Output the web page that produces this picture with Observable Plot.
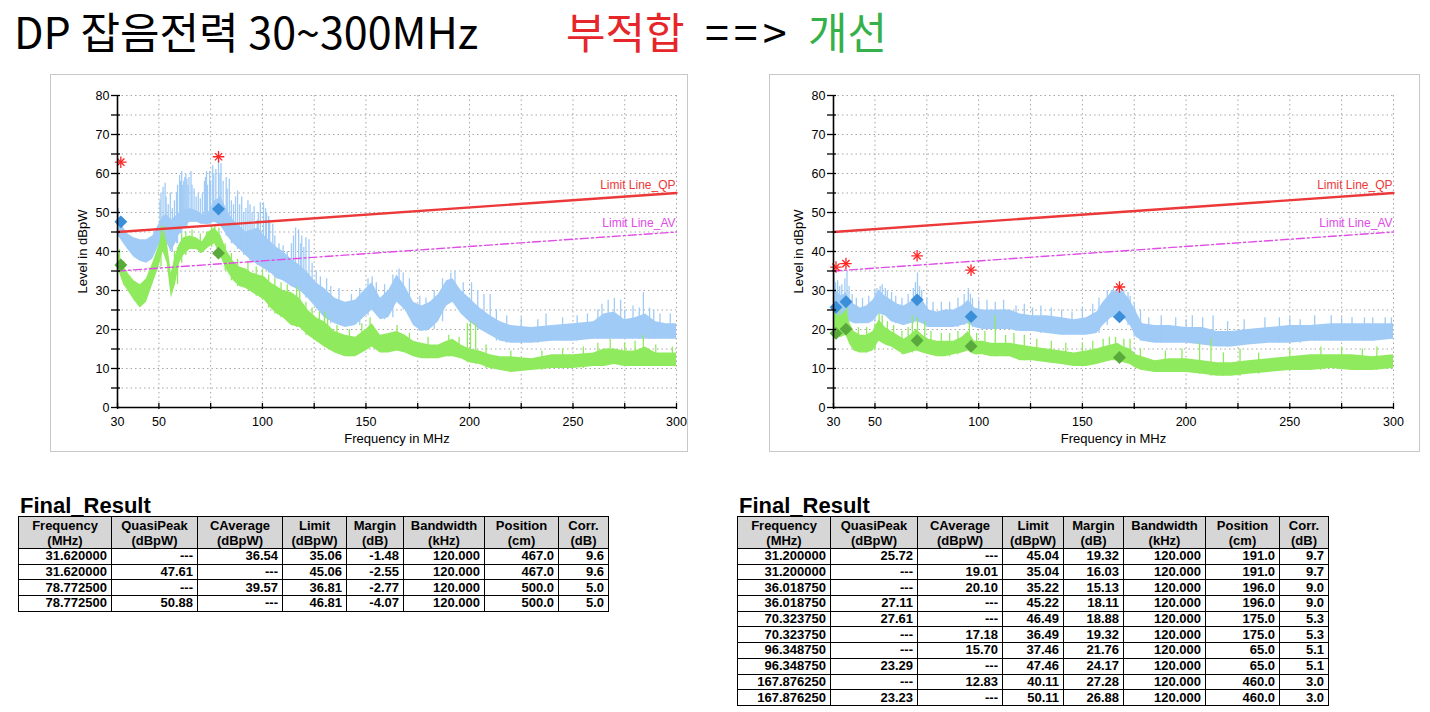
<!DOCTYPE html>
<html><head><meta charset="utf-8">
<script src="https://cdn.jsdelivr.net/npm/d3@7"></script>
<script src="https://cdn.jsdelivr.net/npm/@observablehq/plot@0.6"></script>
<style>
body{margin:0;background:#fff;width:1430px;height:712px;overflow:hidden;position:relative;font-family:"Liberation Sans",Arial,sans-serif;}
.ttl{position:absolute;top:9px;font-family:"Noto Sans CJK KR";font-size:43px;line-height:43px;white-space:nowrap;}
.panel{position:absolute;top:74px;border:1px solid #c8c8c8;background:#fff;}
.panel svg{display:block;max-width:none;}
.fr{position:absolute;top:495px;font-weight:bold;font-size:22px;line-height:22px;}
table{position:absolute;top:516px;border-collapse:collapse;table-layout:fixed;font-weight:bold;font-size:13px;}
th{background:#d6d6d6;border:1px solid #000;font-weight:bold;line-height:15px;padding:0;height:31px;text-align:center;}
td{border:1px solid #000;text-align:right;padding:0 4px 0 0;height:14.7px;line-height:14px;}
</style></head><body>
<script>
// ---------- title ----------
const titleMain = "DP 잡음전력 30~300MHz";
const titleBad = "부적합";
const titleArrow = "==>";
const titleGood = "개선";

// ---------- axes ----------
const xTicks = [30, 50, 75, 100, 125, 150, 175, 200, 225, 250, 275, 300];
const xTickLabels = [30, 50, 100, 150, 200, 250, 300];
const xGridVals = [50, 75, 100, 125, 150, 175, 200, 225, 250, 275, 300];
const yTicks = [0, 5, 10, 15, 20, 25, 30, 35, 40, 45, 50, 55, 60, 65, 70, 75, 80];
const yTickLabels = [0, 10, 20, 30, 40, 50, 60, 70, 80];
const xLabel = "Frequency in MHz";
const yLabel = "Level in dBpW";

// ---------- limit lines ----------
const limitFreq = [30, 300];
const limitQP = [45, 55];
const limitAV = [35, 45];
const limitQPName = "Limit Line_QP";
const limitAVName = "Limit Line_AV";

// ---------- panel 1 (before) traces ----------
const p1Freq =    [30, 31, 33, 35, 38, 41, 44, 47, 50, 52, 54, 56, 58, 60, 62, 65, 68, 71, 74, 77, 80, 83, 86, 89, 92, 95, 98, 101, 104, 107, 110, 114, 118, 122, 126, 130, 135, 140, 145, 150, 153, 157, 161, 165, 169, 173, 177, 181, 185, 189, 192, 196, 200, 205, 210, 215, 220, 230, 240, 250, 260, 265, 270, 275, 280, 285, 290, 295, 300];
const p1BlueLo =  [44, 43.5, 42, 40.5, 38.5, 37.5, 37, 38, 41.5, 43, 42, 40, 42, 44.5, 46, 47.5, 47.5, 47, 47, 47.5, 46.5, 44, 42, 40.5, 39, 37.5, 36.5, 35.5, 34.5, 33, 32.5, 31, 30, 28, 25.5, 23, 21.5, 20.5, 21, 23.5, 25, 22.5, 23, 27, 25, 21, 19.5, 20, 22, 26, 27, 24, 22, 20, 18.5, 17, 16.5, 16.5, 17, 17, 17.5, 17.5, 17.5, 17.5, 17.5, 17.5, 17.5, 17.5, 17.5];
const p1BlueHi =  [51, 49, 46, 44.5, 43.5, 43, 43, 44, 47, 49, 49.5, 48, 49, 50, 50.5, 51, 50.5, 49.5, 50, 53, 54, 50.5, 48, 46.5, 45, 45.5, 46, 44, 42.5, 41, 40, 38, 36.5, 34.5, 32, 30.5, 28, 27, 27.5, 30.5, 32, 28, 30, 34, 31, 27, 26, 27, 29, 32.5, 33, 30, 28, 25.5, 23.5, 22, 21, 20.5, 21, 21.5, 22, 24, 24.5, 22.5, 23, 24, 22, 21.5, 21.5];
const p1GreenLo = [35, 34.5, 31.5, 30, 27.5, 25.5, 27, 31.5, 36, 40, 37, 28, 31.5, 37, 39, 40.5, 40.5, 39.5, 41, 42, 38.5, 35, 32.5, 31, 30.5, 29.5, 28.5, 27.5, 25.5, 24, 23, 21, 20.5, 18.5, 17, 15.5, 14, 13, 13, 14.5, 15.5, 14, 14, 14.5, 14, 13, 12.5, 12.5, 12.5, 13, 13, 12.5, 11.5, 11, 10, 9.5, 9, 9.5, 10, 10, 10.5, 10.5, 11, 10.5, 10.5, 10.5, 10.5, 10.5, 10.5];
const p1GreenHi = [40.5, 39, 36, 34.5, 32.5, 31.5, 33, 37, 41.5, 45, 42.5, 34.5, 39, 42, 43.5, 44, 43.5, 42.5, 45, 46, 44, 40, 37.5, 36, 35.5, 34.5, 34, 33.5, 32, 31, 30, 29.5, 28, 25, 23, 22, 19.5, 18.5, 18, 20, 21.5, 18.5, 19, 19.5, 18.5, 17, 16.5, 16, 16, 17, 17.5, 16, 15, 14.5, 13.5, 13, 13, 12.5, 13.5, 13.5, 14, 15, 15, 14.5, 14.5, 15.5, 14, 14, 14];
const p1BlueSpikeF =   [30.5, 51, 52, 53, 54.5, 55.5, 60, 61, 62, 63, 64, 65.5, 67, 72, 73, 74.5, 76, 77.5, 78.8, 80, 81, 82.5, 84, 86, 88, 90, 92, 94, 96, 97.5, 99, 100.5, 102, 103.5, 105, 116, 117.5, 119, 121, 122.5, 153, 166, 191, 201, 210, 267, 270, 273, 284, 289,
  50.5, 53.5, 56.5, 57.5, 58.5, 59, 60.5, 61.5, 62.5, 63.5, 64.5, 66, 68, 69, 70, 71, 72.5, 73.5, 75, 76.5, 79.5, 83, 85, 87, 89, 91, 93, 95, 98, 101.5, 103, 106, 108, 110, 112, 114, 115, 118.5, 120, 124, 126, 128, 131, 133, 137, 143, 147, 151, 155, 159, 163, 168, 171, 176, 179, 183, 187, 193, 197, 204, 207, 213, 218, 225, 233, 237, 245, 252, 257, 262, 264, 275, 279, 282, 287, 292, 297];
const p1BlueSpikeTop = [51, 55, 56.5, 57.5, 52, 55, 59.5, 60.5, 58, 60, 57, 60.5, 56, 58, 60.5, 60.5, 62, 61, 63.5, 62.5, 58, 59, 58.5, 52, 55.5, 54, 51, 52, 51.5, 48, 52.5, 52.5, 50, 48, 47, 46, 45.5, 44, 43.5, 43, 33.5, 35.5, 34.5, 32, 29, 27.5, 28, 27.5, 29.5, 25,
  53, 54, 51, 53, 55, 57, 58, 57, 59, 58.5, 59, 57, 54, 55, 53.5, 55, 59, 57, 58, 60, 60, 56, 53, 54, 52, 50, 53, 50, 50, 51, 49, 44, 42, 41.5, 40, 42, 44, 42, 41, 37, 35, 33.5, 33, 31, 30.5, 29, 30.5, 33, 32, 31.5, 34, 34.5, 33, 28.5, 28, 30, 33, 35, 32, 30, 29, 25, 23.5, 23, 22.5, 24, 23, 23.5, 24, 25, 26.5, 25, 26, 25.5, 25.5, 24, 24];
const p1GreenSpikeF =   [31, 57.5, 75.5, 116.5, 118, 127.5, 130, 131.5, 199, 200.5, 203, 268, 284,
  33, 51, 52.5, 59, 61, 63, 66, 70, 73, 77, 79, 82, 85, 88, 93, 97, 100, 103, 106, 109, 112, 121, 124, 136, 142, 148, 152, 165, 171, 180, 190, 195, 208, 220, 235, 245, 255, 262, 275, 280, 290, 298];
const p1GreenSpikeTop = [40.5, 40, 46.5, 31, 30, 24.5, 24.5, 23, 21.5, 22, 21.5, 17.5, 18.5,
  37.5, 46.5, 46.5, 41, 44.5, 45, 45.5, 44.5, 45, 47, 46, 42, 39.5, 38, 37.5, 36, 35.5, 34, 33, 32, 31.5, 27, 25.5, 21, 20, 21.5, 23, 21, 19, 18, 18.5, 18, 16, 14.5, 14.5, 15, 15.5, 16.5, 16.5, 17, 16, 15.5];
const p1StarF = [31.6, 78.8];
const p1StarV = [62.9, 64.3];

// ---------- panel 2 (improved) traces ----------
const p2Freq =    [30, 32, 34, 36, 38, 40, 43, 46, 49, 52, 55, 58, 61, 64, 67, 70, 73, 76, 80, 84, 88, 92, 95, 98, 102, 106, 110, 115, 120, 126, 133, 140, 146, 152, 157, 160, 164, 167, 170, 173, 176, 179, 185, 192, 200, 208, 215, 222, 230, 240, 250, 260, 270, 280, 290, 300];
const p2BlueLo =  [24, 23, 22.5, 22.5, 22, 21.5, 21.5, 21.5, 22, 24, 23.5, 22, 21.5, 21, 21.5, 22, 21.5, 20.5, 20.5, 20.5, 20.5, 21, 21.5, 20.5, 20, 20, 20, 20, 19.5, 19.5, 19, 18.5, 18.5, 18.5, 19, 21, 23, 23.5, 23, 21, 18, 17, 16.5, 16.5, 16.5, 16, 15.5, 15.5, 16, 16.5, 16.5, 17, 17, 17, 17, 17.5];
const p2BlueHi =  [31, 29.5, 28.5, 29.5, 27.5, 26.5, 25.5, 26, 27.5, 30, 28.5, 27.5, 26.5, 26, 27, 29, 27.5, 25, 24.5, 25, 25, 26, 27.5, 25.5, 25, 25, 25, 25, 24, 23.5, 23.5, 23, 22.5, 23, 24.5, 27, 29.5, 30, 29.5, 27.5, 24.5, 21.5, 21, 21, 20.5, 20.5, 19.5, 19.5, 20, 20.5, 21, 21, 21.5, 21.5, 21.5, 21.5];
const p2GreenLo = [18.5, 18, 18, 18.5, 16, 14.5, 14, 14, 14.5, 17, 16, 15.5, 14.5, 13.5, 14, 14.5, 14, 13.5, 13, 13, 13.5, 14, 14.5, 13.5, 13.5, 13, 13, 13, 12, 12, 11.5, 11, 10.5, 10.5, 11, 11.5, 12, 12, 11.5, 11, 10, 9.5, 9, 9, 9, 8.5, 8, 8, 8.5, 9, 9.5, 9.5, 10, 9.5, 9.5, 10];
const p2GreenHi = [24.5, 23.5, 23.5, 25, 21.5, 19.5, 18.5, 18.5, 19.5, 22.5, 20.5, 19.5, 18.5, 17.5, 18.5, 20, 18.5, 17.5, 17, 17, 17, 18, 19.5, 17, 17, 16.5, 16.5, 16.5, 16, 15.5, 15, 14.5, 14, 14.5, 15, 15.5, 16, 16.5, 15.5, 15, 13.5, 13, 12, 12.5, 12.5, 12, 11.5, 11.5, 12, 12.5, 13, 13.5, 13.5, 13.5, 13, 13.5];
const p2BlueSpikeF =   [30.3, 31, 33, 35.5, 36.5, 37.5, 51, 52.5, 55, 69.5, 70.5, 71.5, 95, 96, 104, 112, 122, 135, 165, 167.5, 170, 173, 188, 203, 213, 238, 262, 286, 296,
  32, 34, 39, 41, 44, 47, 50, 53.5, 56, 58, 60, 63, 66, 68.5, 72.5, 75, 78, 82, 86, 90, 93, 97, 100, 108, 118, 126, 130, 140, 145, 150, 155, 158, 162, 164, 169, 172, 175, 178, 182, 195, 200, 208, 220, 228, 245, 250, 255, 270, 275, 280, 290, 299];
const p2BlueSpikeTop = [34.5, 32, 31, 33, 34.8, 31, 30.5, 31, 30.5, 32, 34.5, 31, 30.5, 29, 27.5, 27.5, 26.5, 25.5, 30.5, 31, 30, 28.5, 23.5, 23.5, 23.5, 23, 23.5, 23, 23,
  32.5, 31.5, 29, 28, 28, 28.5, 30, 31.5, 30, 29.5, 28.5, 28, 29, 30.5, 30, 28, 27, 27, 27, 28, 29, 28, 27.5, 27, 26, 25.5, 26, 25, 24.5, 25.5, 26.5, 28, 30, 30, 30.5, 29.5, 27, 25, 23, 23, 22.5, 23, 22, 22.5, 23, 23, 22.5, 23.5, 23, 23, 23, 23];
const p2GreenSpikeF =   [31, 36.5, 52, 53.5, 68, 70.5, 74, 95.5, 108, 122, 166, 173, 206.5, 212, 226, 285,
  33, 42, 46, 50, 56, 59, 63, 66, 77, 82, 86, 90, 99, 103, 113, 117, 128, 135, 142, 150, 155, 160, 163, 170, 178, 190, 198, 218, 235, 250, 265, 275, 292];
const p2GreenSpikeTop = [25.5, 26.5, 24, 23.5, 23.5, 23, 22, 22, 23.5, 18.5, 18, 17.5, 16.5, 17.5, 15, 15,
  25, 20.5, 20.5, 21.5, 22, 21, 19.5, 20.5, 19.5, 19, 19, 19.5, 19, 19.5, 18.5, 19, 17.5, 17, 16.5, 16.5, 17, 17.5, 18, 17.5, 15, 14.5, 15, 14, 14, 15, 15.5, 15.5, 15.5];
const p2StarF = [31.2, 36.0, 70.3, 96.3, 167.9];
const p2StarV = [36.0, 36.9, 38.9, 35.2, 30.9];

// ---------- tables ----------
const tableTitle = "Final_Result";
const tableHeads = ["Frequency", "QuasiPeak", "CAverage", "Limit", "Margin", "Bandwidth", "Position", "Corr."];
const tableUnits = ["(MHz)", "(dBpW)", "(dBpW)", "(dBpW)", "(dB)", "(kHz)", "(cm)", "(dB)"];

const t1Freq   = ["31.620000", "31.620000", "78.772500", "78.772500"];
const t1QP     = ["---", "47.61", "---", "50.88"];
const t1CAvg   = ["36.54", "---", "39.57", "---"];
const t1Limit  = ["35.06", "45.06", "36.81", "46.81"];
const t1Margin = ["-1.48", "-2.55", "-2.77", "-4.07"];
const t1BW     = ["120.000", "120.000", "120.000", "120.000"];
const t1Pos    = ["467.0", "467.0", "500.0", "500.0"];
const t1Corr   = ["9.6", "9.6", "5.0", "5.0"];

const t2Freq   = ["31.200000", "31.200000", "36.018750", "36.018750", "70.323750", "70.323750", "96.348750", "96.348750", "167.876250", "167.876250"];
const t2QP     = ["25.72", "---", "---", "27.11", "27.61", "---", "---", "23.29", "---", "23.23"];
const t2CAvg   = ["---", "19.01", "20.10", "---", "---", "17.18", "15.70", "---", "12.83", "---"];
const t2Limit  = ["45.04", "35.04", "35.22", "45.22", "46.49", "36.49", "37.46", "47.46", "40.11", "50.11"];
const t2Margin = ["19.32", "16.03", "15.13", "18.11", "18.88", "19.32", "21.76", "24.17", "27.28", "26.88"];
const t2BW     = ["120.000", "120.000", "120.000", "120.000", "120.000", "120.000", "120.000", "120.000", "120.000", "120.000"];
const t2Pos    = ["191.0", "191.0", "196.0", "196.0", "175.0", "175.0", "65.0", "65.0", "460.0", "460.0"];
const t2Corr   = ["9.7", "9.7", "9.0", "9.0", "5.3", "5.3", "5.1", "5.1", "3.0", "3.0"];

// ---------- colours ----------
const C = {
  blueTrace: "#a0cbf6", greenTrace: "#90ea5e",
  qp: "#ec3838", av: "#e04ce6",
  blueDia: "#3b8fd9", greenDia: "#5aa93c", star: "#ff2424",
  grid: "#a6a6a6", bad: "#e5262b", good: "#35b04a"
};

// ---------- title ----------
function addTitle(text, left, color, spacing) {
  const d = document.createElement("div");
  d.className = "ttl"; d.style.left = left + "px"; d.style.color = color; d.textContent = text;
  if (spacing) d.style.letterSpacing = spacing + "px";
  document.body.appendChild(d);
}
addTitle(titleMain, 14, "#000");
addTitle(titleBad, 566, C.bad);
addTitle(titleArrow, 705, "#000", 5);
addTitle(titleGood, 808, C.good);

// ---------- panels ----------
function makePanel(cfg) {
  const env = cfg.freq.map((f, i) => ({f, bLo: cfg.bLo[i], bHi: cfg.bHi[i], gLo: cfg.gLo[i], gHi: cfg.gHi[i]}));
  const nearest = f => env[d3.minIndex(env, d => Math.abs(d.f - f))];
  const bSp = cfg.bSpF.map((f, i) => ({f, lo: nearest(f).bLo, top: cfg.bSpT[i]}));
  const gSp = cfg.gSpF.map((f, i) => ({f, lo: nearest(f).gLo, top: cfg.gSpT[i]}));
  const lim = limitFreq.map((f, i) => ({f, qp: limitQP[i], av: limitAV[i]}));
  const pick = (fs, vs) => fs.map((f, i) => ({f: +f, v: vs[i]})).filter(d => d.v !== "---").map(d => ({f: d.f, v: +d.v}));
  const qp = pick(cfg.tFreq, cfg.tQP);
  const av = pick(cfg.tFreq, cfg.tAV);
  const stars = cfg.starF.map((f, i) => ({f, v: cfg.starV[i]}));
  const fs = 12.5;

  const plot = Plot.plot({
    width: cfg.width, height: 376,
    marginLeft: cfg.mL, marginRight: cfg.mR, marginTop: 20, marginBottom: 44,
    style: {fontFamily: "'Liberation Sans', Arial, sans-serif", fontSize: fs + "px", color: "#000", background: "#fff"},
    x: {domain: [30, 300]},
    y: {domain: [0, 80]},
    marks: [
      Plot.gridX(xGridVals, {stroke: C.grid, strokeOpacity: 1, strokeDasharray: "1.5,3"}),
      Plot.gridY(yTicks, {stroke: C.grid, strokeOpacity: 1, strokeDasharray: "1.5,3"}),
      Plot.areaY(env, {x: "f", y1: "bLo", y2: "bHi", fill: C.blueTrace, curve: "linear"}),
      Plot.ruleX(bSp, {x: "f", y1: "lo", y2: "top", stroke: C.blueTrace, strokeWidth: 1.3}),
      Plot.areaY(env, {x: "f", y1: "gLo", y2: "gHi", fill: C.greenTrace, curve: "linear"}),
      Plot.ruleX(gSp, {x: "f", y1: "lo", y2: "top", stroke: C.greenTrace, strokeWidth: 1.3}),
      Plot.line(lim, {x: "f", y: "qp", stroke: C.qp, strokeWidth: 2.4}),
      Plot.line(lim, {x: "f", y: "av", stroke: C.av, strokeWidth: 1.4, strokeDasharray: "8,3,2,3"}),
      Plot.text([{f: 300, v: limitQP[1], t: limitQPName}], {x: "f", y: "v", text: "t", textAnchor: "end", lineAnchor: "bottom", dy: -4, dx: -1, fill: C.qp, fontSize: 12}),
      Plot.text([{f: 300, v: limitAV[1], t: limitAVName}], {x: "f", y: "v", text: "t", textAnchor: "end", lineAnchor: "bottom", dy: -5, dx: -1, fill: C.av, fontSize: 12}),
      Plot.dot(qp, {x: "f", y: "v", symbol: "diamond2", r: 5.8, fill: C.blueDia}),
      Plot.dot(av, {x: "f", y: "v", symbol: "diamond2", r: 5.8, fill: C.greenDia}),
      Plot.dot(stars, {x: "f", y: "v", symbol: "plus", r: 3.8, stroke: C.star, strokeWidth: 1.3}),
      Plot.dot(stars, {x: "f", y: "v", symbol: "times", r: 3.4, stroke: C.star, strokeWidth: 1.3}),
      Plot.ruleX([30], {stroke: "#000", strokeWidth: 1.6}),
      Plot.ruleY([0], {stroke: "#000", strokeWidth: 1.6}),
      Plot.axisY(yTicks, {tickSize: 9, dx: 3, tickPadding: 2, strokeWidth: 1.3, tickFormat: d => yTickLabels.includes(d) ? String(d) : "", label: null, fontSize: fs}),
      Plot.axisX(xTicks, {tickSize: 6, dy: -4, tickPadding: 8, strokeWidth: 1.3, tickFormat: d => xTickLabels.includes(d) ? String(d) : "", label: null, fontSize: fs}),
      Plot.text([xLabel], {frameAnchor: "bottom", dy: 35, fontSize: 13}),
      Plot.text([yLabel], {frameAnchor: "left", dx: -35, rotate: -90, textAnchor: "middle", fontSize: 13})
    ]
  });
  const div = document.createElement("div");
  div.className = "panel"; div.style.left = cfg.left + "px";
  div.style.width = cfg.width + "px"; div.style.height = "376px";
  div.appendChild(plot);
  document.body.appendChild(div);
}

makePanel({left: 50, width: 636, mL: 66, mR: 11,
  freq: p1Freq, bLo: p1BlueLo, bHi: p1BlueHi, gLo: p1GreenLo, gHi: p1GreenHi,
  bSpF: p1BlueSpikeF, bSpT: p1BlueSpikeTop, gSpF: p1GreenSpikeF, gSpT: p1GreenSpikeTop,
  starF: p1StarF, starV: p1StarV, tFreq: t1Freq, tQP: t1QP, tAV: t1CAvg});
makePanel({left: 769, width: 649, mL: 63, mR: 26,
  freq: p2Freq, bLo: p2BlueLo, bHi: p2BlueHi, gLo: p2GreenLo, gHi: p2GreenHi,
  bSpF: p2BlueSpikeF, bSpT: p2BlueSpikeTop, gSpF: p2GreenSpikeF, gSpT: p2GreenSpikeTop,
  starF: p2StarF, starV: p2StarV, tFreq: t2Freq, tQP: t2QP, tAV: t2CAvg});

// ---------- tables ----------
function buildTable(left, widths, cols) {
  d3.select("body").append("div").attr("class", "fr").style("left", (left + 2) + "px").text(tableTitle);
  const tbl = d3.select("body").append("table").style("left", left + "px").style("width", d3.sum(widths) + "px");
  const cg = tbl.append("colgroup");
  widths.forEach(w => cg.append("col").style("width", w + "px"));
  const hr = tbl.append("tr");
  tableHeads.forEach((h, i) => hr.append("th").html(h + "<br>" + tableUnits[i]));
  for (let r = 0; r < cols[0].length; r++) {
    const tr = tbl.append("tr");
    cols.forEach(c => tr.append("td").text(c[r]));
  }
}
buildTable(18, [93, 86, 85, 64, 57, 81, 74, 50], [t1Freq, t1QP, t1CAvg, t1Limit, t1Margin, t1BW, t1Pos, t1Corr]);
buildTable(737, [93, 87, 85, 61, 60, 82, 74, 49], [t2Freq, t2QP, t2CAvg, t2Limit, t2Margin, t2BW, t2Pos, t2Corr]);
</script>
</body></html>
